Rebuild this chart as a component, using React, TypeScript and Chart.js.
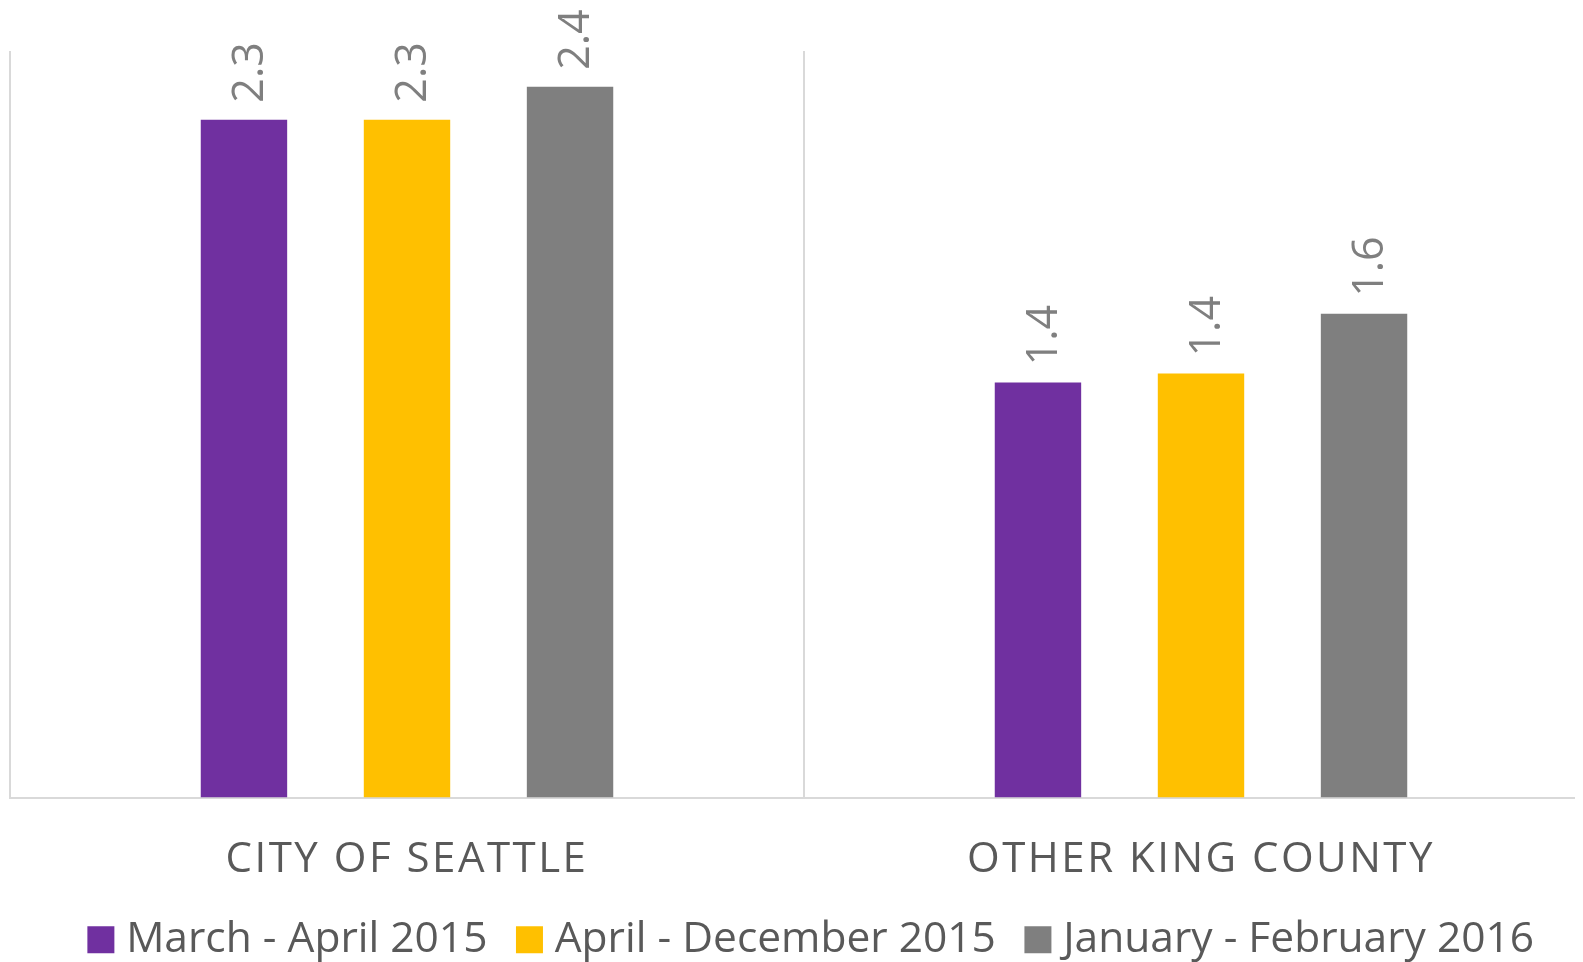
import React, { useEffect, useRef } from 'react';
import { Chart, registerables } from 'chart.js';

Chart.register(...registerables);

const categories = ['CITY OF SEATTLE', 'OTHER KING COUNTY'];
const seriesNames = ['March - April 2015', 'April - December 2015', 'January - February 2016'];
const marchApril2015 = [2.27, 1.39];
const aprilDecember2015 = [2.27, 1.42];
const januaryFebruary2016 = [2.38, 1.62];
const seriesColors = ['#7030A0', '#FFC000', '#7F7F7F'];
const yMin = 0;
const yMax = 2.5;

const FONT = '"Open Sans", "Noto Sans", sans-serif';

const valueLabels = {
  id: 'valueLabels',
  afterDatasetsDraw(chart: any) {
    const ctx = chart.ctx;
    ctx.save();
    ctx.font = `43px ${FONT}`;
    ctx.fillStyle = '#7F7F7F';
    ctx.textAlign = 'left';
    ctx.textBaseline = 'alphabetic';
    chart.data.datasets.forEach((ds: any, di: number) => {
      const meta = chart.getDatasetMeta(di);
      meta.data.forEach((bar: any, i: number) => {
        const v = ds.data[i] as number;
        ctx.save();
        ctx.translate(bar.x + 19, bar.y - 17);
        ctx.rotate(-Math.PI / 2);
        ctx.fillText(v.toFixed(1), 0, 0);
        ctx.restore();
      });
    });
    ctx.restore();
  },
};

// letter-spaced category labels (shifted down into their band) and a nudged legend row
const textTweaks = {
  id: 'textTweaks',
  beforeDraw(chart: any) {
    const xs: any = chart.scales.x;
    if (xs && !xs.__tweaked) {
      const orig = xs.drawLabels.bind(xs);
      xs.drawLabels = (area: any) => {
        const c: any = chart.ctx;
        c.save();
        c.letterSpacing = '2.5px';
        c.translate(0, 21.5);
        orig(area);
        c.restore();
      };
      xs.__tweaked = true;
    }
    const lg: any = chart.legend;
    if (lg && !lg.__tweaked) {
      const origL = lg.draw.bind(lg);
      lg.draw = (area: any) => {
        const c: any = chart.ctx;
        c.save();
        c.translate(11.5, 0);
        origL(area);
        c.restore();
      };
      lg.__tweaked = true;
    }
  },
};

export default function App() {
  const ref = useRef<HTMLCanvasElement | null>(null);

  useEffect(() => {
    document.documentElement.style.overflow = 'hidden';
    document.body.style.overflow = 'hidden';
    if (!ref.current) return;
    const seriesValues = [marchApril2015, aprilDecember2015, januaryFebruary2016];
    const chart = new Chart(ref.current, {
      type: 'bar',
      data: {
        labels: categories,
        datasets: seriesNames.map((name, i) => ({
          label: name,
          data: seriesValues[i],
          backgroundColor: seriesColors[i],
          borderWidth: 0,
          barPercentage: 0.53,
          categoryPercentage: 0.616,
        })),
      },
      options: {
        responsive: false,
        animation: false,
        layout: { padding: { top: 43, left: 2, right: 2, bottom: -9 } },
        scales: {
          x: {
            grid: { display: true, color: '#D9D9D9', lineWidth: 2, drawTicks: false, offset: true },
            border: { display: true, color: '#D9D9D9', width: 2 },
            ticks: {
              color: '#595959',
              font: { family: FONT, size: 42 },
              padding: 16.3,
              maxRotation: 0,
              autoSkip: false,
            },
          },
          y: { display: false, min: yMin, max: yMax },
        },
        plugins: {
          tooltip: { enabled: false },
          legend: {
            position: 'bottom',
            labels: {
              boxWidth: 8,
              boxHeight: 8,
              padding: 38,
              color: '#595959',
              font: { family: FONT, size: 42.5 },
              generateLabels: (c: any) =>
                (Chart.defaults.plugins.legend.labels.generateLabels as any)(c).map((l: any) => ({
                  ...l,
                  lineWidth: 19,
                  strokeStyle: l.fillStyle,
                })),
            },
          },
        },
      } as any,
      plugins: [valueLabels, textTweaks],
    });
    return () => chart.destroy();
  }, []);

  return <canvas ref={ref} width={1592} height={954} style={{ display: 'block' }} />;
}
